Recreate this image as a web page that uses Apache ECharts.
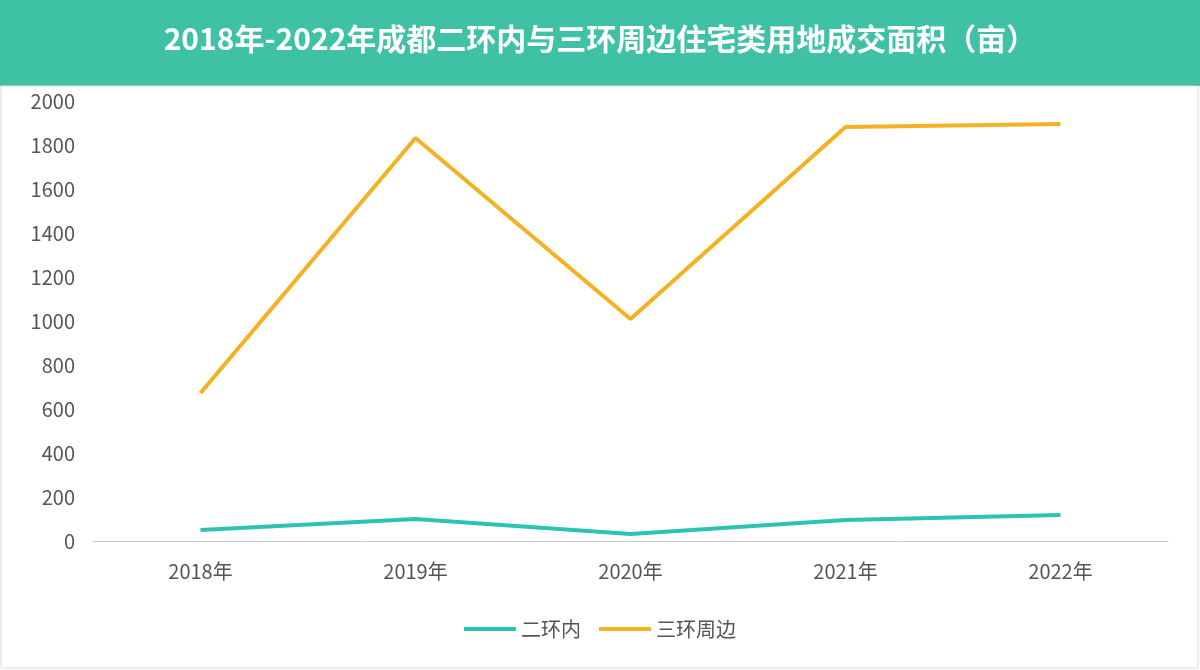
<!DOCTYPE html>
<html><head><meta charset="utf-8">
<script src="https://cdn.jsdelivr.net/npm/echarts@6/dist/echarts.min.js"></script>
<style>body{margin:0}#c{width:1200px;height:670px}</style>
</head><body><div id="c"></div>
<script>
var years = ['2018年', '2019年', '2020年', '2021年', '2022年']
var inner = [50, 100, 32, 95, 118]
var outer = [673, 1832, 1009, 1882, 1895]
var yTicks = [0, 200, 400, 600, 800, 1000, 1200, 1400, 1600, 1800, 2000]

var chart = echarts.init(document.getElementById('c'))
chart.setOption({
  backgroundColor: '#fff',
  graphic: [
    { type: 'rect', shape: { x: 0, y: 0, width: 1200, height: 86 }, style: { fill: '#3fc1a6' } },
    { type: 'rect', shape: { x: 1, y: 86, width: 1197, height: 582 }, style: { fill: 'none', stroke: '#d6dde4' } },
    { type: 'text', left: 'center', top: 24, style: { text: '2018年-2022年成都二环内与三环周边住宅类用地成交面积（亩）', fill: '#fff', font: 'bold 30px "Noto Sans CJK SC"' } }
  ],
  legend: {
    bottom: 26, left: 'center', itemWidth: 52, itemHeight: 4, itemGap: 18,
    icon: 'rect',
    textStyle: { fontSize: 20, color: '#555', fontFamily: 'Noto Sans CJK SC' },
    data: ['二环内', '三环周边']
  },
  grid: { left: 93, right: 32, top: 101, bottom: 129 },
  xAxis: {
    type: 'category', data: years,
    axisLine: { lineStyle: { color: '#c8c8c8' } },
    axisTick: { show: false },
    axisLabel: { fontSize: 20, color: '#555', margin: 20, fontFamily: 'Noto Sans CJK SC' }
  },
  yAxis: {
    type: 'value', min: 0, max: 2000, interval: 200,
    axisLine: { show: false }, axisTick: { show: false }, splitLine: { show: false },
    axisLabel: { fontSize: 20, color: '#555', margin: 18, fontFamily: 'Noto Sans CJK SC',
      formatter: function (v) { return yTicks.indexOf(v) >= 0 ? v : '' } }
  },
  series: [
    { name: '二环内', type: 'line', data: inner, symbol: 'none', color: '#2ec3b0', lineStyle: { width: 4 } },
    { name: '三环周边', type: 'line', data: outer, symbol: 'none', color: '#f4b223', lineStyle: { width: 4 } }
  ]
})
</script></body></html>
